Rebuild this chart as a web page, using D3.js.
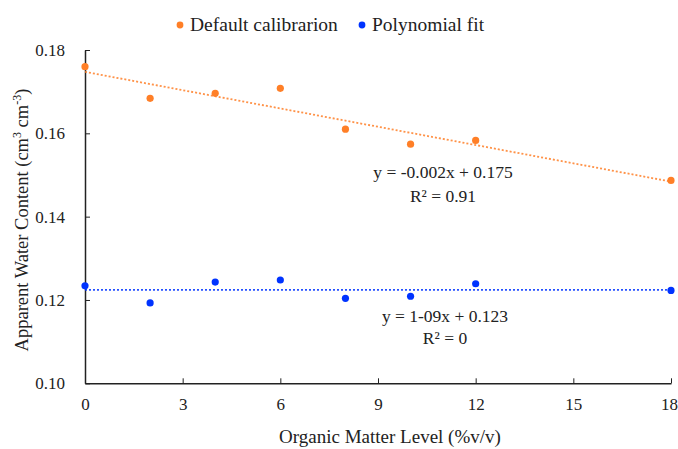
<!DOCTYPE html>
<html><head><meta charset="utf-8">
<script src="https://cdn.jsdelivr.net/npm/d3@7"></script>
<style>body{margin:0;background:#fff;} svg{display:block;} text{font-family:"Liberation Serif","Times New Roman",serif;fill:#222;}</style>
</head><body>
<svg id="chart" width="678" height="449"></svg>
<script>
const xLevels = [0, 2, 4, 6, 8, 10, 12, 18];
const defaultCalibration = [0.1760, 0.1684, 0.1696, 0.1708, 0.1610, 0.1574, 0.1583, 0.1487];
const polynomialFit = [0.1234, 0.1193, 0.1243, 0.1248, 0.1204, 0.1209, 0.1239, 0.1223];
const xTicks = [0, 3, 6, 9, 12, 15, 18];
const yTicks = [0.10, 0.12, 0.14, 0.16, 0.18];
const seriesNames = ["Default calibrarion", "Polynomial fit"];
const seriesColors = ["#FF7F27", "#0033FF"];
const equations = [["y = -0.002x + 0.175", "R\u00B2 = 0.91"], ["y = 1-09x + 0.123", "R\u00B2 = 0"]];

const svg = d3.select("#chart");
const x = d3.scaleLinear().domain([0, 18]).range([85, 671]);
const y = d3.scaleLinear().domain([0.10, 0.18]).range([383.3, 50]);

function regress(xs, ys) {
  const mx = d3.mean(xs), my = d3.mean(ys);
  let sxy = 0, sxx = 0;
  xs.forEach((v, i) => { sxy += (v - mx) * (ys[i] - my); sxx += (v - mx) * (v - mx); });
  const b = sxy / sxx; return { a: my - b * mx, b };
}

// axes
const xAxis = d3.axisBottom(x).tickValues(xTicks).tickSizeInner(-5).tickSizeOuter(0).tickPadding(15).tickFormat(d3.format("d"));
const yAxis = d3.axisLeft(y).tickValues(yTicks).tickSizeInner(-5).tickSizeOuter(0).tickPadding(20).tickFormat(d3.format(".2f"));
const gx = svg.append("g").attr("transform", `translate(0,${y(0.10)})`).call(xAxis);
const gy = svg.append("g").attr("transform", `translate(${x(0)},0)`).call(yAxis);
[gx, gy].forEach(g => {
  g.selectAll("path.domain").attr("stroke", "#222").attr("stroke-width", 1.5);
  g.selectAll(".tick line").attr("stroke", "#222").attr("stroke-width", 1);
  g.selectAll("text").style("font-family", '"Liberation Serif", serif').style("font-size", "17px").attr("fill", "#222");
});
// keep the last x label inside the window
gx.selectAll(".tick text").filter(d => d === 18).attr("x", -2);

// series
const allSeries = [defaultCalibration, polynomialFit];
allSeries.forEach((vals, si) => {
  const r = regress(xLevels, vals);
  svg.append("line")
    .attr("x1", x(0)).attr("y1", y(r.a))
    .attr("x2", x(18)).attr("y2", y(r.a + r.b * 18))
    .attr("stroke", seriesColors[si]).attr("stroke-width", 1.8)
    .attr("stroke-dasharray", "2,2").attr("opacity", 0.85);
  svg.append("g").selectAll("circle").data(vals).join("circle")
    .attr("cx", (d, i) => x(xLevels[i])).attr("cy", d => y(d))
    .attr("r", 3.6).attr("fill", seriesColors[si]);
});

// equations
const eqPos = [[443, 178, 202], [445, 322, 344]];
equations.forEach((lines, i) => {
  lines.forEach((t, j) => {
    svg.append("text").attr("x", eqPos[i][0]).attr("y", eqPos[i][j + 1])
      .attr("text-anchor", "middle").style("font-size", "17.5px").text(t);
  });
});

// legend
const legendX = [180, 362];
seriesNames.forEach((n, i) => {
  svg.append("circle").attr("cx", legendX[i]).attr("cy", 25).attr("r", 3.4).attr("fill", seriesColors[i]);
  svg.append("text").attr("x", legendX[i] + 10).attr("y", 31).style("font-size", "19.5px").text(n);
});

// axis titles
svg.append("text").attr("x", 390).attr("y", 443).attr("text-anchor", "middle")
  .style("font-size", "19px").text("Organic Matter Level (%v/v)");
const yt = svg.append("text").attr("transform", "translate(28,220) rotate(-90)")
  .attr("text-anchor", "middle").style("font-size", "18.5px");
yt.append("tspan").text("Apparent Water Content (cm");
yt.append("tspan").attr("dy", -7).style("font-size", "12px").text("3");
yt.append("tspan").attr("dy", 7).text(" cm");
yt.append("tspan").attr("dy", -7).style("font-size", "12px").text("-3");
yt.append("tspan").attr("dy", 7).text(")");
</script>
</body></html>
